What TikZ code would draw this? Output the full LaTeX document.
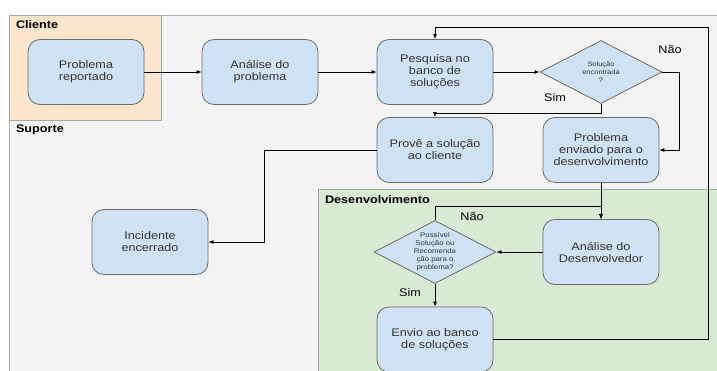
\documentclass[tikz,border=0pt]{standalone}
\usepackage{fontspec}
\setmainfont{Liberation Sans}[FakeStretch=1.15]
\usetikzlibrary{shapes.geometric,arrows.meta}
\definecolor{boxblue}{HTML}{CFE2F3}
\definecolor{boxline}{HTML}{6B6B6B}
\definecolor{textgray}{HTML}{333333}
\definecolor{suportegray}{HTML}{F3F3F4}
\definecolor{clientepeach}{HTML}{FCE5CD}
\definecolor{devgreen}{HTML}{D9EAD3}
\begin{document}
\begin{tikzpicture}[x=1pt,y=-1pt,
    stepbox/.style={draw=boxline, fill=boxblue, rounded corners=12pt,
        minimum width=116pt, minimum height=65pt, align=center,
        text=textgray, line width=0.8pt, font=\fontsize{11}{12}\selectfont},
    choice/.style={diamond, draw=boxline, fill=boxblue, aspect=1.95,
        inner sep=0pt, minimum width=122pt, minimum height=63pt,
        align=center, text=textgray, line width=0.8pt},
    flow/.style={-{Latex[length=5pt,width=4pt]}, line width=0.8pt},
    lane/.style={anchor=west, font=\bfseries\fontsize{11}{13}\selectfont},
    tag/.style={font=\fontsize{11}{13}\selectfont}]
\useasboundingbox (0,0) rectangle (717,370);

%lanes
\draw[draw=gray!60, fill=suportegray] (9,15) rectangle (720,372);
\draw[draw=gray!70, fill=clientepeach] (9,15) rectangle (161,120);
\draw[draw=gray!70, fill=devgreen] (318,189) rectangle (720,372);
\node[lane](cliente)at(12.5,25){Cliente};
\node[lane](suporte)at(12.5,130){Suporte};
\node[lane](desenvolvimento)at(321.5,200){Desenvolvimento};

%steps
\node[stepbox](reportado)at(86,72){Problema\\reportado};
\node[stepbox](analise)at(260,72){Análise do\\problema};
\node[stepbox](pesquisa)at(435,72){Pesquisa no\\banco de\\soluções};
\node[choice, font=\fontsize{6.5}{8}\selectfont](sol)at(601,72)
    {Solução\\encontrada\\?};
\node[stepbox](prove)at(435,150){Provê a solução\\ao cliente};
\node[stepbox](enviado)at(601,150){Problema\\enviado para o\\desenvolvimento};
\node[stepbox](incidente)at(150,242){Incidente\\encerrado};
\node[stepbox](devanalise)at(601,252){Análise do\\Desenvolvedor};
\node[choice, font=\fontsize{6.8}{8}\selectfont](poss)at(435,252)
    {Possível\\Solução ou\\Recomenda\\ção para o\\problema?};
\node[stepbox](envio)at(435,339.5){Envio ao banco\\de soluções};

%labels
\node[tag](nao_sol)at(670,50){Não};
\node[tag](sim_sol)at(555,98){Sim};
\node[tag](nao_poss)at(472,217){Não};
\node[tag](sim_poss)at(410,293){Sim};

%connectors
\coordinate(simjoin)at(435,113);
\coordinate(loopcorner)at(708,27);
\draw[flow](reportado)--(analise);
\draw[flow](analise)--(pesquisa);
\draw[flow](pesquisa)--(sol);
\draw[flow](sol.south)|-(simjoin)--(prove.north);
\draw[flow](sol.east)--++(17,0)|-(enviado.east);
\draw[flow](enviado)--(devanalise);
\draw[flow](prove.west)--++(-112,0)|-(incidente.east);
\draw[flow](devanalise)--(poss);
\draw[flow](poss.north)--++(0,-14)-|(devanalise.north);
\draw[flow](poss)--(envio);
\draw[flow](envio.east)-|(loopcorner)-|(pesquisa.north);
\end{tikzpicture}
\end{document}
